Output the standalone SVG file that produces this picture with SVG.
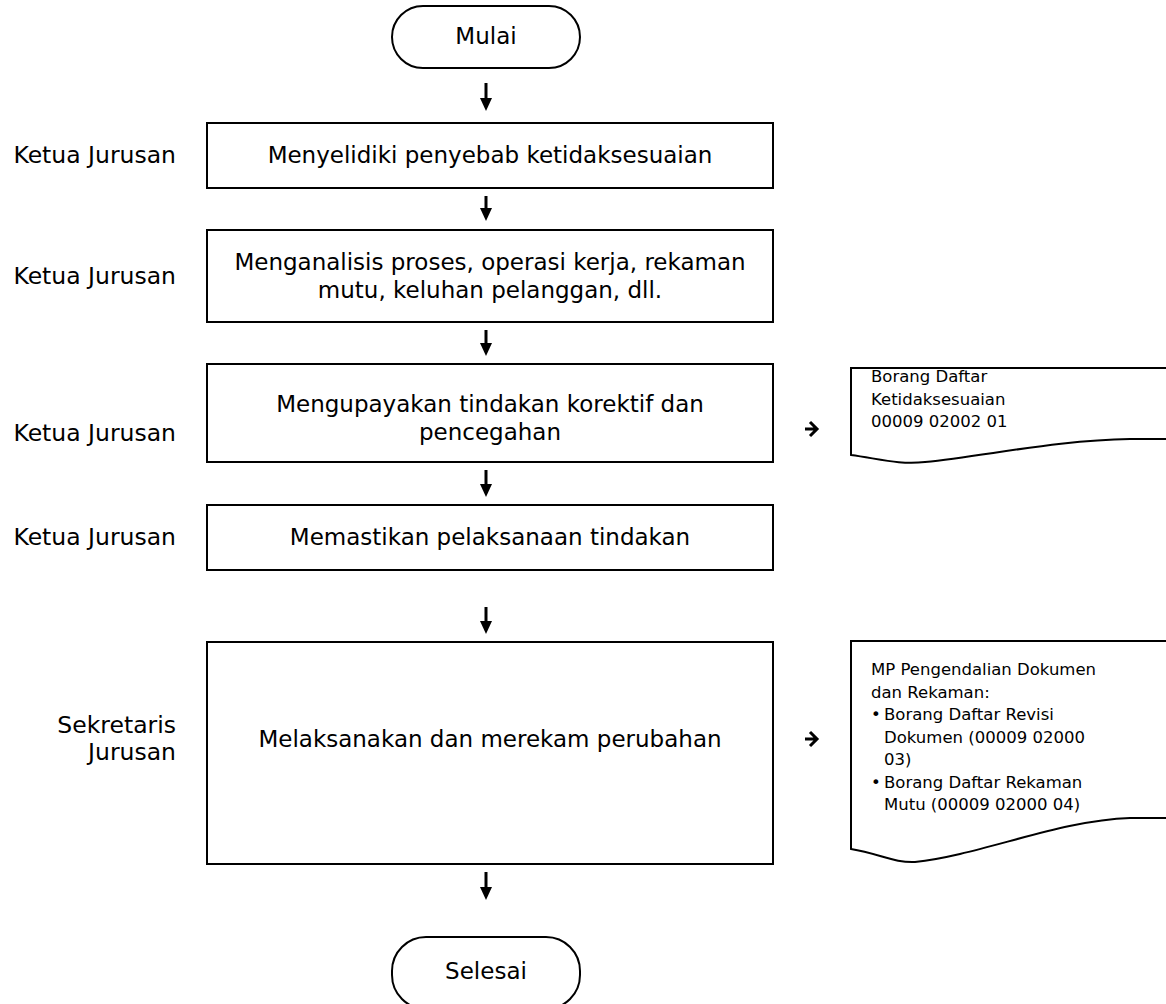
<svg xmlns="http://www.w3.org/2000/svg" width="1166" height="1004" viewBox="0 0 1166 1004">
<defs>
<style>
.box{fill:#fff;stroke:#000;stroke-width:2}
.t{font-family:"DejaVu Sans",Verdana,sans-serif;font-size:23px;fill:#000}
.lb{font-family:"DejaVu Sans",Verdana,sans-serif;font-size:23.5px;fill:#000;text-anchor:end}
.c{text-anchor:middle}
.d{font-family:"DejaVu Sans",Verdana,sans-serif;font-size:16.5px;fill:#000}
.ln{stroke:#000;stroke-width:3;fill:none}
.hd{fill:#000;stroke:none}
.sa{stroke:#000;stroke-width:3;fill:none}
</style>
</defs>
<rect width="1166" height="1004" fill="#fff"/>

<g id="start">
<rect class="box" x="392" y="6" width="188" height="62" rx="31"/>
<text class="t c" x="486" y="44">Mulai</text>
</g>

<g id="n1">
<rect class="box" x="207" y="123" width="566" height="65"/>
<text class="t c" x="490" y="163">Menyelidiki penyebab ketidaksesuaian</text>
<text class="lb" x="176" y="163">Ketua Jurusan</text>
</g>

<g id="n2">
<rect class="box" x="207" y="230" width="566" height="92"/>
<text class="t c" x="490" y="270">Menganalisis proses, operasi kerja, rekaman</text>
<text class="t c" x="490" y="298">mutu, keluhan pelanggan, dll.</text>
<text class="lb" x="176" y="284">Ketua Jurusan</text>
</g>

<g id="n3">
<rect class="box" x="207" y="364" width="566" height="98"/>
<text class="t c" x="490" y="412">Mengupayakan tindakan korektif dan</text>
<text class="t c" x="490" y="440">pencegahan</text>
<text class="lb" x="176" y="441">Ketua Jurusan</text>
</g>

<g id="n4">
<rect class="box" x="207" y="505" width="566" height="65"/>
<text class="t c" x="490" y="545">Memastikan pelaksanaan tindakan</text>
<text class="lb" x="176" y="545">Ketua Jurusan</text>
</g>

<g id="n5">
<rect class="box" x="207" y="642" width="566" height="222"/>
<text class="t c" x="490" y="747">Melaksanakan dan merekam perubahan</text>
<text class="lb" x="176" y="733">Sekretaris</text>
<text class="lb" x="176" y="760">Jurusan</text>
</g>

<g id="end">
<rect class="box" x="392" y="937" width="188" height="72" rx="34"/>
<text class="t c" x="486" y="979">Selesai</text>
</g>

<g id="doc1">
<path class="box" d="M1170,368 H851 V455 C880,459 900,465 925,462 C990,455 1060,440 1130,439 H1170"/>
<text class="d" x="871" y="382">Borang Daftar</text>
<text class="d" x="871" y="405">Ketidaksesuaian</text>
<text class="d" x="871" y="427">00009 02002 01</text>
</g>

<g id="doc2">
<path class="box" d="M1170,641 H851 V849 C880,854 895,863 915,862 C980,855 1060,820 1130,818 H1170"/>
<text class="d" x="871" y="675">MP Pengendalian Dokumen</text>
<text class="d" x="871" y="698">dan Rekaman:</text>
<text class="d" x="871" y="720">•</text>
<text class="d" x="884" y="720">Borang Daftar Revisi</text>
<text class="d" x="884" y="743">Dokumen (00009 02000</text>
<text class="d" x="884" y="765">03)</text>
<text class="d" x="871" y="788">•</text>
<text class="d" x="884" y="788">Borang Daftar Rekaman</text>
<text class="d" x="884" y="810">Mutu (00009 02000 04)</text>
</g>

<g id="connectors">
<line class="ln" x1="486" y1="83" x2="486" y2="100"/><path class="hd" d="M480,98 H492 L486,111 Z"/>
<line class="ln" x1="486" y1="196" x2="486" y2="210"/><path class="hd" d="M480,208 H492 L486,221 Z"/>
<line class="ln" x1="486" y1="330" x2="486" y2="345"/><path class="hd" d="M480,343 H492 L486,356 Z"/>
<line class="ln" x1="486" y1="470" x2="486" y2="486"/><path class="hd" d="M480,484 H492 L486,497 Z"/>
<line class="ln" x1="486" y1="607" x2="486" y2="623"/><path class="hd" d="M480,621 H492 L486,634 Z"/>
<line class="ln" x1="486" y1="872" x2="486" y2="889"/><path class="hd" d="M480,887 H492 L486,900 Z"/>
<path class="sa" d="M805,429 H817 M810,422 L817,429 L810,436"/>
<path class="sa" d="M805,739 H817 M810,732 L817,739 L810,746"/>
</g>
</svg>
